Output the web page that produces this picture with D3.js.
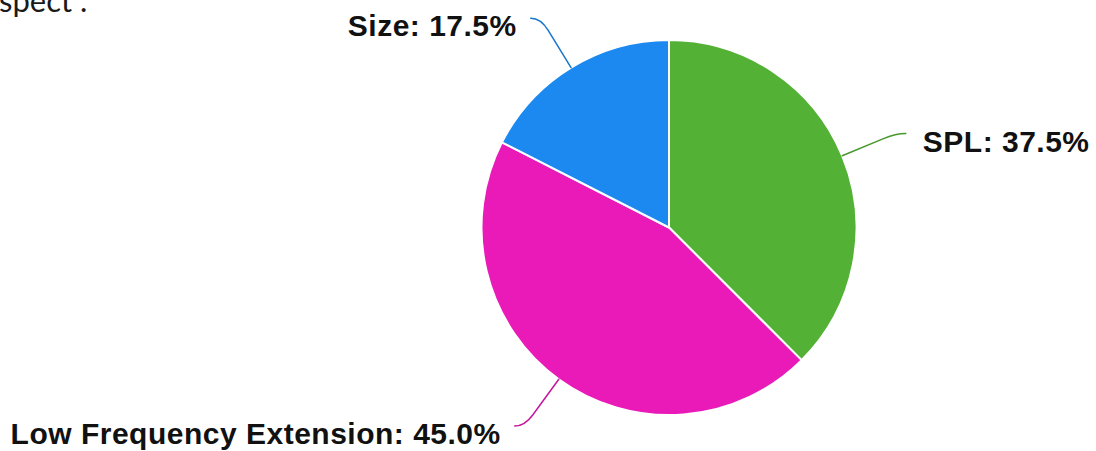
<!DOCTYPE html>
<html>
<head>
<meta charset="utf-8">
<script src="https://cdn.jsdelivr.net/npm/d3@7"></script>
<style>
  html, body { margin: 0; padding: 0; background: #fff; overflow: hidden; }
  svg { display: block; }
</style>
</head>
<body>
<svg id="chart" width="1096" height="451"></svg>
<script>
// Share of votes per speaker priority
const categories = ["SPL", "Low Frequency Extension", "Size"];
const shares = [37.5, 45.0, 17.5];
const sliceColors = ["#53b135", "#e91ab8", "#1b89f0"];

const width = 1096, height = 451;
const cx = 669, cy = 227.5, radius = 187.5;

const svg = d3.select("#chart");

// Trailing end of the preceding paragraph, clipped at the page's top-left corner
const tailText = svg.append("text")
  .attr("y", 11.5)
  .style("font-family", "Lato, 'Open Sans', sans-serif")
  .style("font-size", "31px")
  .style("fill", "#1a1a1a");
tailText.append("tspan").attr("class", "lead").text("a");
tailText.append("tspan").text("spect\u201D.");
const leadWidth = tailText.select("tspan.lead").node().getComputedTextLength();
tailText.attr("x", -leadWidth - 1);

const pie = d3.pie().sort(null).value(d => d);
const arcs = pie(shares);

const arc = d3.arc().innerRadius(0).outerRadius(radius);

const g = svg.append("g").attr("transform", `translate(${cx},${cy})`);

g.selectAll("path.slice")
  .data(arcs)
  .join("path")
  .attr("class", "slice")
  .attr("d", arc)
  .attr("fill", (d, i) => sliceColors[i])
  .attr("stroke", "#ffffff")
  .attr("stroke-width", 2)
  .attr("stroke-linejoin", "round");

// Leader lines: radial run from the rim, then a short bend to horizontal
const bendStart = 44, bendCorner = 58, tail = 10;
const polar = (a, r) => [Math.sin(a) * r, -Math.cos(a) * r];

const leaders = arcs.map((d, i) => {
  const a = (d.startAngle + d.endAngle) / 2;
  const side = a < Math.PI ? 1 : -1;
  const p0 = polar(a, radius);
  const p1 = polar(a, radius + bendStart);
  const pc = polar(a, radius + bendCorner);
  const p2 = [pc[0] + side * tail, pc[1]];
  return { i, a, side, p0, p1, pc, p2 };
});

g.selectAll("path.leader")
  .data(leaders)
  .join("path")
  .attr("class", "leader")
  .attr("d", l => `M${l.p0[0]},${l.p0[1]}L${l.p1[0]},${l.p1[1]}Q${l.pc[0]},${l.pc[1]} ${l.p2[0]},${l.p2[1]}`)
  .attr("fill", "none")
  .attr("stroke", l => d3.color(sliceColors[l.i]).darker(0.45))
  .attr("stroke-width", 1.5)
  .attr("stroke-linecap", "round");

g.selectAll("text.label")
  .data(leaders)
  .join("text")
  .attr("class", "label")
  .attr("x", l => l.p2[0] + (l.side > 0 ? 17 : -14))
  .attr("y", l => l.p2[1] + 18)
  .attr("text-anchor", l => l.side > 0 ? "start" : "end")
  .style("font-family", "'Liberation Sans', Arial, sans-serif")
  .style("font-weight", "bold")
  .style("font-size", "30px")
  .style("letter-spacing", "0.5px")
  .style("fill", "#111111")
  .text(l => `${categories[l.i]}: ${shares[l.i].toFixed(1)}%`);
</script>
</body>
</html>
